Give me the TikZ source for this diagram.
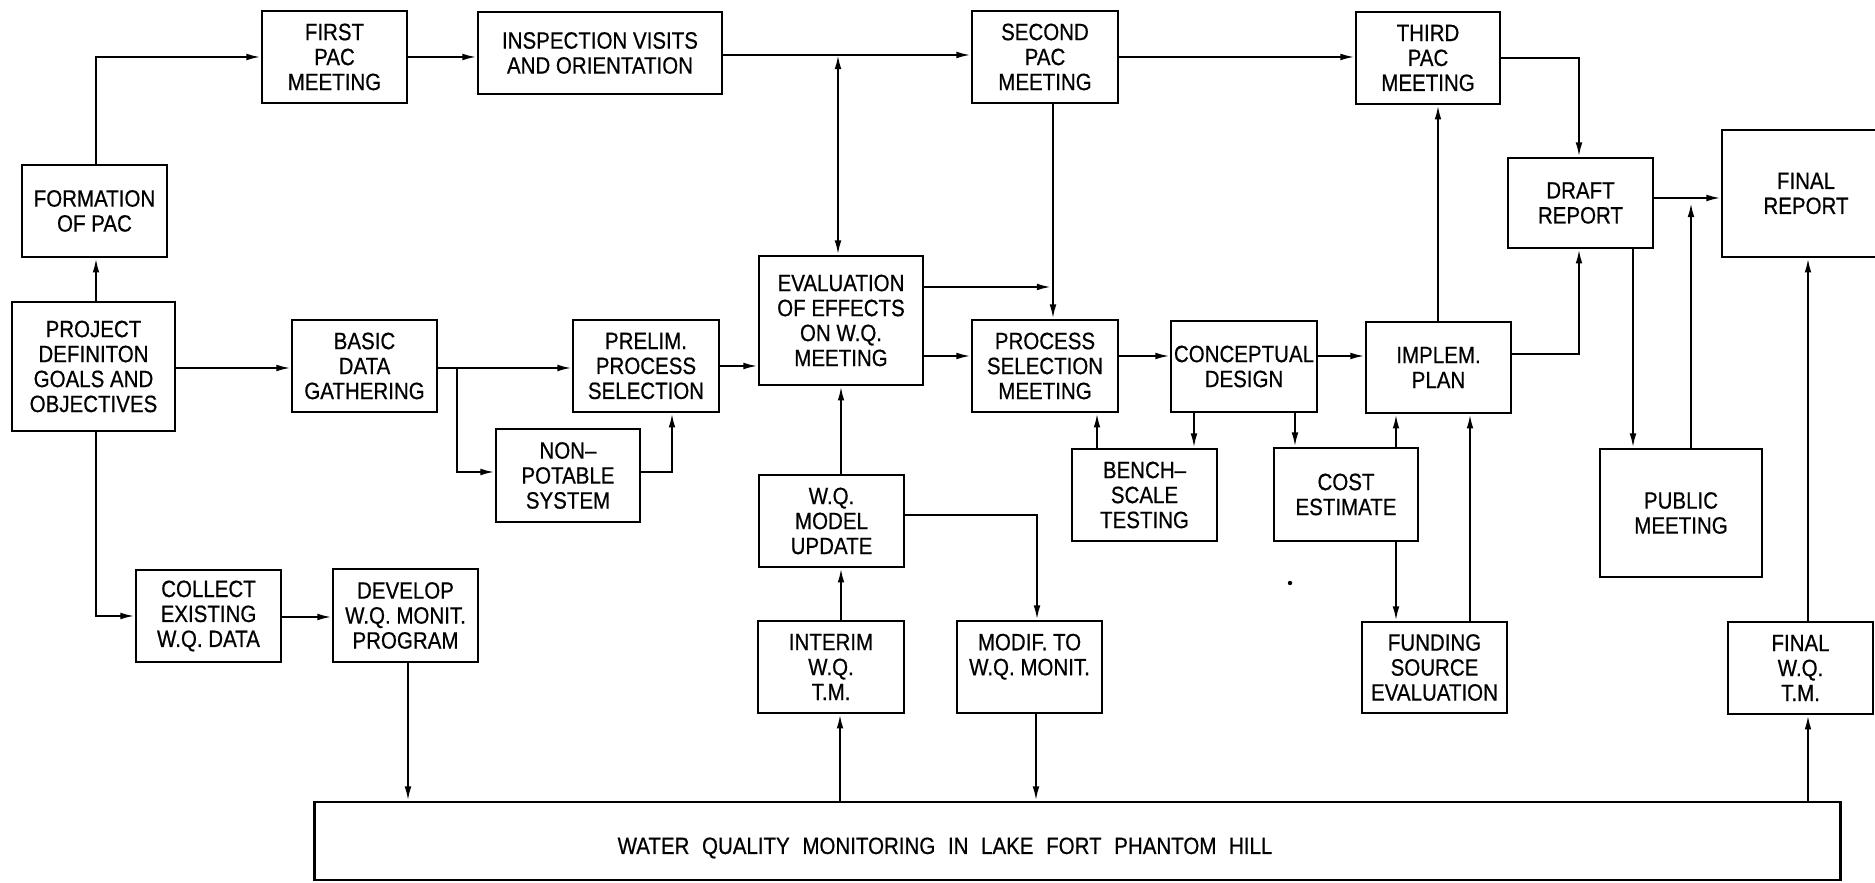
\documentclass[tikz,border=0pt]{standalone}
\usepackage{fontspec}
\setmainfont{Liberation Sans}[FakeStretch=0.87, FakeBold=0.6]
\usetikzlibrary{arrows.meta}
\tikzset{
  box/.style={draw, line width=0.8pt, inner sep=0pt, align=center},
  arr/.style={line width=0.55pt, -{Latex[length=4pt,width=1.9pt]}},
  arrboth/.style={line width=0.55pt, {Latex[length=4pt,width=1.9pt]}-{Latex[length=4pt,width=1.9pt]}},
  label/.style={inner sep=0pt, align=center}
}
\begin{document}
\begin{tikzpicture}[x=0.01cm, y=-0.01cm, font=\fontsize{6.7}{7.1}\selectfont]
\useasboundingbox (0,0) rectangle (1875,883);

% nodes
\node[box, minimum width=1.45cm, minimum height=0.92cm] (form) at (94.5,211) {FORMATION\\OF PAC};
\node[box, minimum width=1.63cm, minimum height=1.29cm] (proj) at (93.5,366.5) {PROJECT\\DEFINITON\\GOALS AND\\OBJECTIVES};
\node[box, minimum width=1.45cm, minimum height=0.92cm] (first) at (334.5,57) {FIRST\\PAC\\MEETING};
\node[box, minimum width=2.44cm, minimum height=0.82cm] (insp) at (600,53) {INSPECTION VISITS\\AND ORIENTATION};
\node[box, minimum width=1.45cm, minimum height=0.92cm] (basic) at (364.5,366) {BASIC\\DATA\\GATHERING};
\node[box, minimum width=1.46cm, minimum height=0.92cm] (prelim) at (646,366) {PRELIM.\\PROCESS\\SELECTION};
\node[box, minimum width=1.44cm, minimum height=0.93cm] (nonpot) at (568,475.5) {NON–\\POTABLE\\SYSTEM};
\node[box, minimum width=1.45cm, minimum height=0.92cm] (collect) at (208.5,616) {COLLECT\\EXISTING\\W.Q. DATA};
\node[box, minimum width=1.45cm, minimum height=0.93cm] (develop) at (405.5,615.5) {DEVELOP\\W.Q. MONIT.\\PROGRAM};
\node[box, minimum width=1.46cm, minimum height=0.92cm] (second) at (1045,57) {SECOND\\PAC\\MEETING};
\node[box, minimum width=1.64cm, minimum height=1.29cm] (eval) at (841,320.5) {EVALUATION\\OF EFFECTS\\ON W.Q.\\MEETING};
\node[box, minimum width=1.46cm, minimum height=0.92cm] (process) at (1045,366) {PROCESS\\SELECTION\\MEETING};
\node[box, minimum width=1.46cm, minimum height=0.91cm] (concept) at (1244,366.5) {CONCEPTUAL\\DESIGN};
\node[box, minimum width=1.45cm, minimum height=0.92cm] (bench) at (1144.5,495) {BENCH–\\SCALE\\TESTING};
\node[box, minimum width=1.44cm, minimum height=0.93cm] (cost) at (1346,494.5) {COST\\ESTIMATE};
\node[box, minimum width=1.45cm, minimum height=0.92cm] (wqmodel) at (831.5,521) {W.Q.\\MODEL\\UPDATE};
\node[box, minimum width=1.46cm, minimum height=0.92cm] (interim) at (831,667) {INTERIM\\W.Q.\\T.M.};
\node[box, minimum width=1.45cm, minimum height=0.92cm] (modif) at (1029.5,667) {MODIF. TO\\W.Q. MONIT.\\\mbox{}};
\node[box, minimum width=1.44cm, minimum height=0.92cm] (third) at (1428,58) {THIRD\\PAC\\MEETING};
\node[box, minimum width=1.45cm, minimum height=0.90cm] (draft) at (1580.5,203) {DRAFT\\REPORT};
\node[box, minimum width=1.68cm, minimum height=1.27cm] (final) at (1806,193.5) {FINAL\\REPORT};
\node[box, minimum width=1.45cm, minimum height=0.91cm] (implem) at (1438.5,367.5) {IMPLEM.\\PLAN};
\node[box, minimum width=1.45cm, minimum height=0.91cm] (funding) at (1434.5,667.5) {FUNDING\\SOURCE\\EVALUATION};
\node[box, minimum width=1.62cm, minimum height=1.28cm] (public) at (1681,513) {PUBLIC\\MEETING};
\node[box, minimum width=1.45cm, minimum height=0.92cm] (finalwq) at (1800.5,668) {FINAL\\W.Q.\\T.M.};
\node[box, minimum width=15.25cm, minimum height=0.78cm] (wq) at (1077.5,841) {};
\node[label] (wqlabel) at (945,848) {\spaceskip=3.6pt WATER QUALITY MONITORING IN LAKE FORT PHANTOM HILL};

% junction coordinates
\coordinate (j0) at (838,55);
\coordinate (j1) at (1051,287);
\coordinate (j2) at (457,368);
\coordinate (j3) at (1691,203);

% connectors
\draw[arr] (form.north -| 96,0) |- (first.west);
\draw[arr] (proj.north -| 96,0) -- (form.south -| 96,0);
\draw[arr] (first.east) -- (insp.west |- first.east);
\draw[arr] (insp.east |- 0,55) -- (second.west |- 0,55);
\draw[arr] (second.east) -- (third.west |- second.east);
\draw[arrboth] (j0) -- (eval.north -| j0);
\draw[arr] (second.south -| 1053,0) -- (process.north -| 1053,0);
\draw[arr] (eval.east |- j1) -- (j1);
\draw[arr] (eval.east |- 0,356) -- (process.west |- 0,356);
\draw[arr] (prelim.east) -- (eval.west |- prelim.east);
\draw[arr] (proj.east |- 0,368) -- (basic.west |- 0,368);
\draw[arr] (basic.east |- 0,368) -- (prelim.west |- 0,368);
\draw[arr] (j2) |- (nonpot.west |- 0,472);
\draw[arr] (nonpot.east |- 0,472) -| (prelim.south -| 672,0);
\draw[arr] (proj.south -| 96,0) |- (collect.west |- 0,616);
\draw[arr] (collect.east |- 0,617) -- (develop.west |- 0,617);
\draw[arr] (develop.south -| 408,0) -- (wq.north -| 408,0);
\draw[arr] (wqmodel.north -| 841,0) -- (eval.south -| 841,0);
\draw[arr] (interim.north -| 841,0) -- (wqmodel.south -| 841,0);
\draw[arr] (wq.north -| 840,0) -- (interim.south -| 840,0);
\draw[arr] (wqmodel.east |- 0,515) -| (modif.north -| 1037,0);
\draw[arr] (modif.south -| 1036,0) -- (wq.north -| 1036,0);
\draw[arr] (process.east |- 0,356) -- (concept.west |- 0,356);
\draw[arr] (concept.east |- 0,356) -- (implem.west |- 0,356);
\draw[arr] (bench.north -| 1097,0) -- (process.south -| 1097,0);
\draw[arr] (concept.south -| 1194,0) -- (bench.north -| 1194,0);
\draw[arr] (concept.south -| 1295,0) -- (cost.north -| 1295,0);
\draw[arr] (cost.north -| 1396,0) -- (implem.south -| 1396,0);
\draw[arr] (cost.south -| 1396,0) -- (funding.north -| 1396,0);
\draw[arr] (funding.north -| 1470,0) -- (implem.south -| 1470,0);
\draw[arr] (implem.north -| 1438,0) -- (third.south -| 1438,0);
\draw[arr] (third.east) -| (draft.north -| 1579,0);
\draw[arr] (implem.east |- 0,354) -| (draft.south -| 1579,0);
\draw[arr] (draft.east |- 0,198) -- (final.west |- 0,198);
\draw[arr] (draft.south -| 1633,0) -- (public.north -| 1633,0);
\draw[arr] (public.north -| j3) -- (j3);
\draw[arr] (finalwq.north -| 1808,0) -- (final.south -| 1808,0);
\draw[arr] (wq.north -| 1808,0) -- (finalwq.south -| 1808,0);

% stray dot
\fill (1290,583) circle[radius=2.2];
\end{tikzpicture}
\end{document}
